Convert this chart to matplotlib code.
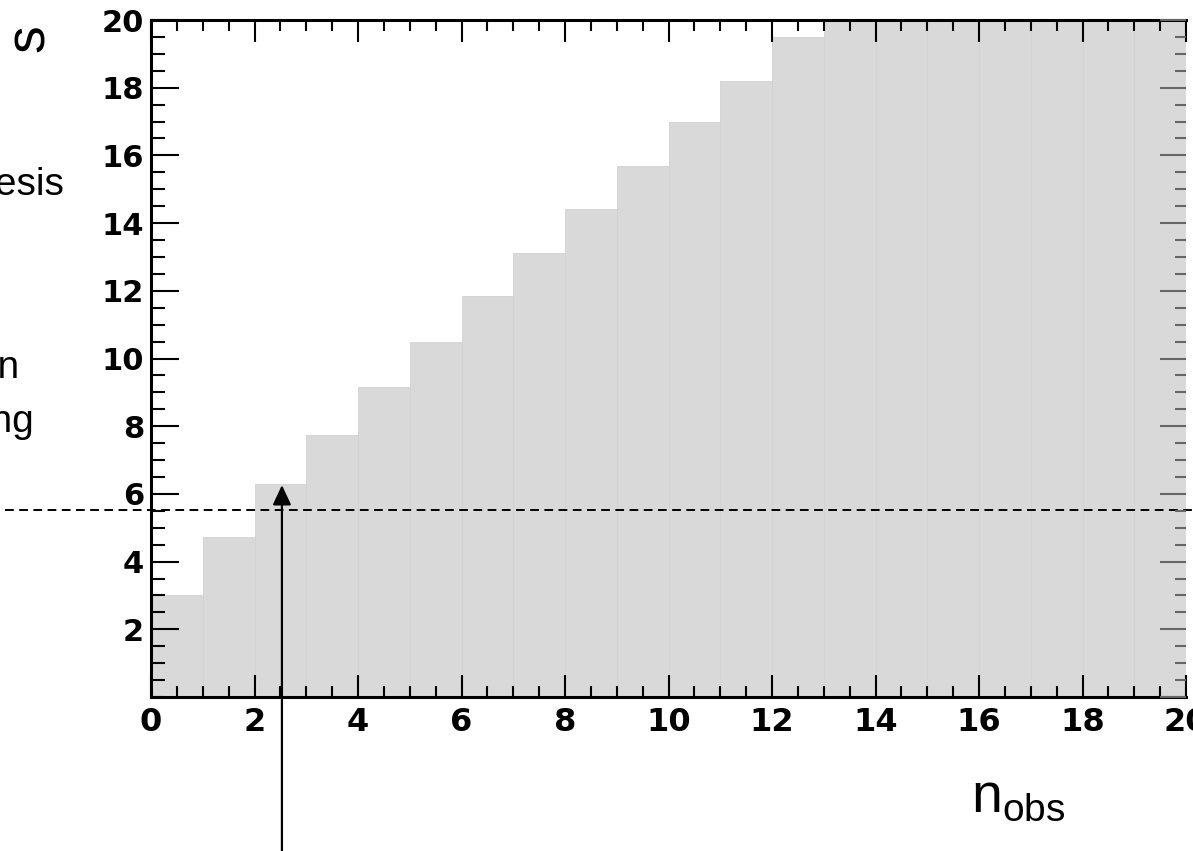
import numpy as np
import matplotlib
matplotlib.use("Agg")
import matplotlib.pyplot as plt
from matplotlib.ticker import MultipleLocator

plt.rcParams['font.family'] = ['Liberation Sans', 'DejaVu Sans']
plt.rcParams['mathtext.fontset'] = 'custom'
plt.rcParams['mathtext.rm'] = 'Liberation Sans'

# upper edge of the accepted region for each n_obs bin
n_obs = np.arange(0, 20)
s_upper = [3.0, 4.74, 6.29, 7.74, 9.15, 10.5, 11.85, 13.12, 14.41, 15.70,
           17.0, 18.21, 19.50, 20, 20, 20, 20, 20, 20, 20]
s_line = 5.52      # dashed horizontal line
n_arrow = 2.53     # vertical arrow position
s_arrow_tip = 6.26

W, H = 1193, 851
fig = plt.figure(figsize=(W / 100, H / 100), dpi=100)
ax = fig.add_axes([151 / W, 1 - 697 / H, (1186 - 151) / W, (697 - 20) / H])

ax.bar(n_obs, s_upper, width=1, align='edge', color='#d9d9d9',
       edgecolor='#d3d3d3', linewidth=0.6, zorder=1)

ax.set_xlim(0, 20)
ax.set_ylim(0, 20)
ax.xaxis.set_major_locator(MultipleLocator(2))
ax.xaxis.set_minor_locator(MultipleLocator(0.5))
ax.yaxis.set_major_locator(MultipleLocator(2))
ax.yaxis.set_minor_locator(MultipleLocator(0.5))
ax.set_yticks(range(2, 21, 2))

ax.tick_params(axis='x', which='major', direction='in', length=16, width=1.5,
               top=True, pad=7, labelsize=23)
ax.tick_params(axis='x', which='minor', direction='in', length=8, width=1.5, top=True)
ax.tick_params(axis='y', which='major', direction='in', length=20, width=1.5,
               right=False, pad=5, labelsize=22)
ax.tick_params(axis='y', which='minor', direction='in', length=10, width=1.5, right=False)
for lab in ax.get_xticklabels() + ax.get_yticklabels():
    lab.set_fontweight('bold')
    lab.set_family('DejaVu Sans')

for side in ['left', 'bottom', 'top']:
    ax.spines[side].set_linewidth(2.2)
ax.spines['right'].set_visible(False)

# right-hand ticks (greyish, cut by the picture edge)
rax = ax.twinx()
rax.set_ylim(0, 20)
rax.yaxis.set_major_locator(MultipleLocator(2))
rax.yaxis.set_minor_locator(MultipleLocator(0.5))
rax.tick_params(axis='y', which='major', direction='in', length=19, width=1.5,
                color='#666666', labelright=False)
rax.tick_params(axis='y', which='minor', direction='in', length=8, width=1.5,
                color='#666666')
for sp in rax.spines.values():
    sp.set_visible(False)

# dashed line running past the left edge of the axes
ax.plot([-2.82, 21], [s_line, s_line], color='black', lw=1.4,
        dashes=(4.5, 2.8), clip_on=False, zorder=5)

# vertical arrow from below the axes
ax.annotate('', xy=(n_arrow, s_arrow_tip), xytext=(n_arrow, -4.8),
            arrowprops=dict(arrowstyle='-|>,head_length=0.6,head_width=0.28',
                            color='black', lw=1.6, mutation_scale=20,
                            shrinkA=0, shrinkB=0),
            annotation_clip=False, zorder=6)

# axis titles
fig.text(30 / W, 1 - 38 / H, 's', fontsize=40, rotation=90,
         ha='center', va='center')
fig.text(971 / W, 1 - 812 / H, r'n$_{\mathrm{obs}}$', fontsize=40,
         ha='left', va='baseline')

# text fragments cut by the left edge
fig.text(64 / W, 1 - 195 / H, 'hypothesis', fontsize=28, ha='right', va='baseline')
fig.text(20 / W, 1 - 378 / H, 'region', fontsize=28, ha='right', va='baseline')
fig.text(34 / W, 1 - 432 / H, 'ordering', fontsize=28, ha='right', va='baseline')

fig.savefig('out.png', dpi=100)
